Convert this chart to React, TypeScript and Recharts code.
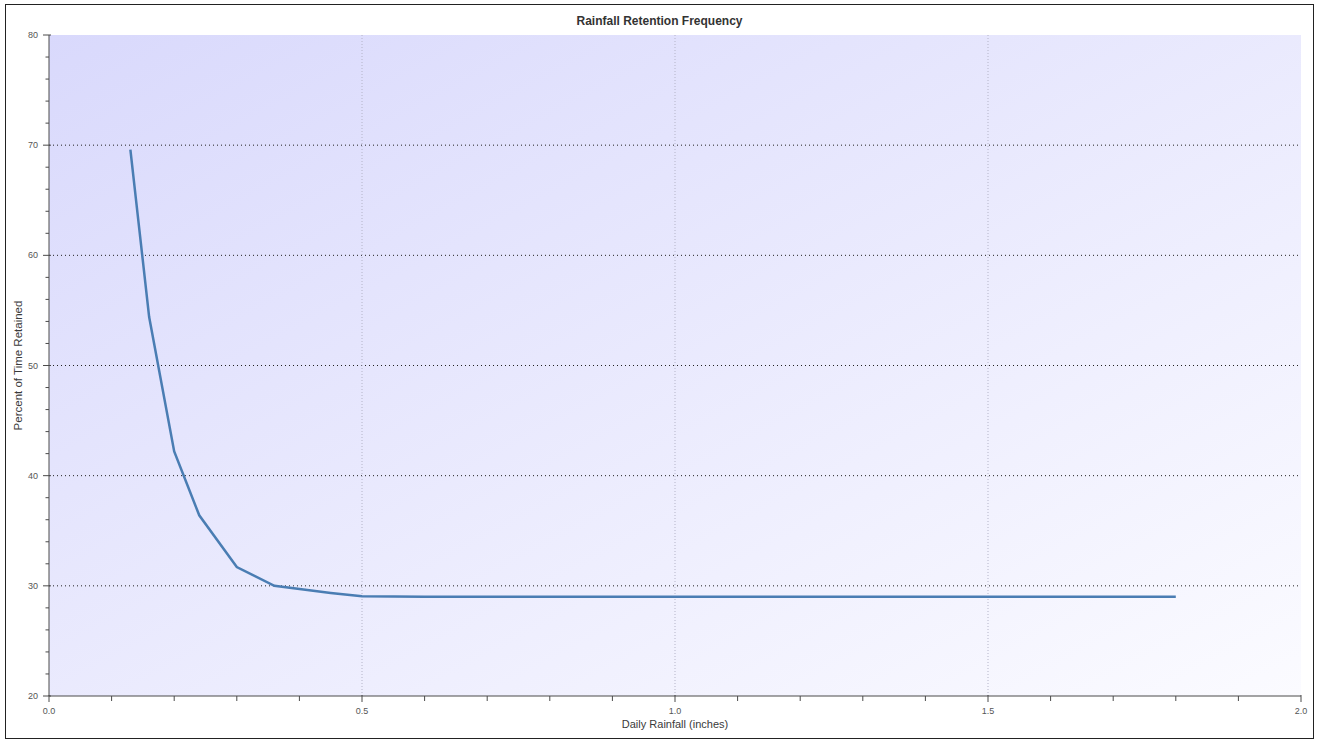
import { LineChart, Line, XAxis, YAxis, ReferenceArea, ReferenceLine } from 'recharts';

const rainfall = [0.13, 0.16, 0.2, 0.24, 0.3, 0.36, 0.45, 0.5, 0.6, 0.8, 1.0, 1.2, 1.4, 1.6, 1.8];
const retained = [69.6, 54.4, 42.2, 36.4, 31.7, 30.0, 29.35, 29.05, 29.0, 29.0, 29.0, 29.0, 29.0, 29.0, 29.0];

const xTicks = [0, 0.1, 0.2, 0.3, 0.4, 0.5, 0.6, 0.7, 0.8, 0.9, 1.0, 1.1, 1.2, 1.3, 1.4, 1.5, 1.6, 1.7, 1.8, 1.9, 2.0];
const yTicks = [20, 22, 24, 26, 28, 30, 32, 34, 36, 38, 40, 42, 44, 46, 48, 50, 52, 54, 56, 58, 60, 62, 64, 66, 68, 70, 72, 74, 76, 78, 80];
const xGrid = [0.5, 1.0, 1.5];
const yGrid = [30, 40, 50, 60, 70];

const data = rainfall.map((x, i) => ({ x, y: retained[i] }));

const font = '"Liberation Sans", Arial, sans-serif';
const axisColor = '#4a4a4a';

const isMajorX = (v: number) => Math.abs(v * 2 - Math.round(v * 2)) < 1e-6;
const isMajorY = (v: number) => v % 10 === 0;

function LeftTick(props: any) {
  const { x, y, payload } = props;
  const major = isMajorY(payload.value);
  return (
    <g>
      <line x1={major ? x - 4 : x - 1.5} x2={major ? x + 4 : x + 2} y1={y} y2={y} stroke={axisColor} />
      {major && (
        <text x={x - 9} y={y + 3} textAnchor="end" fontSize={9} fill="#555" fontFamily={font}>
          {payload.value}
        </text>
      )}
    </g>
  );
}

function RightTick(props: any) {
  const { x, y, payload } = props;
  const major = isMajorY(payload.value);
  return <line x1={x - (major ? 4 : 2)} x2={x} y1={y} y2={y} stroke={axisColor} />;
}

function BottomTick(props: any) {
  const { x, y, payload } = props;
  const major = isMajorX(payload.value);
  return (
    <g>
      <line x1={x} x2={x} y1={major ? y - 3 : y - 2} y2={major ? y + 4 : y + 3} stroke={axisColor} />
      {major && (
        <text x={x} y={y + 16} textAnchor="middle" fontSize={9} fill="#555" fontFamily={font}>
          {payload.value.toFixed(1)}
        </text>
      )}
    </g>
  );
}

function TopTick(props: any) {
  const { x, y, payload } = props;
  const major = isMajorX(payload.value);
  return <line x1={x} x2={x} y1={y} y2={y + (major ? 4 : 2)} stroke={axisColor} />;
}

export default function App() {
  return (
    <div
      style={{
        position: 'absolute',
        left: 5,
        top: 4,
        width: 1307,
        height: 733,
        border: '1px solid #222',
        background: '#fff',
      }}
    >
      <div
        style={{
          position: 'absolute',
          top: 9,
          left: 0,
          width: '100%',
          textAlign: 'center',
          fontFamily: font,
          fontSize: 12,
          fontWeight: 'bold',
          color: '#333',
        }}
      >
        Rainfall Retention Frequency
      </div>
      <LineChart width={1307} height={733} data={data} margin={{ top: 30, right: 12, bottom: 0, left: 0 }}>
        <defs>
          <linearGradient id="plotBg" x1="0" y1="0" x2="1" y2="1">
            <stop offset="0%" stopColor="#d9d9fc" />
            <stop offset="100%" stopColor="#fbfbff" />
          </linearGradient>
        </defs>
        <XAxis
          dataKey="x"
          type="number"
          domain={[0, 2]}
          ticks={xTicks}
          interval={0}
          height={42}
          tickSize={0}
          tickLine={false}
          tick={<BottomTick />}
          stroke={axisColor}
          allowDataOverflow
          label={{
            value: 'Daily Rainfall (inches)',
            position: 'insideBottom',
            offset: 10,
            style: { fontFamily: font, fontSize: 11, fill: '#3a3a3a' },
          }}
        />
        <XAxis
          xAxisId="top"
          orientation="top"
          type="number"
          domain={[0, 2]}
          ticks={xTicks}
          interval={0}
          height={0}
          tickSize={0}
          tickLine={false}
          tick={<TopTick />}
          stroke={axisColor}
          allowDataOverflow
        />
        <YAxis
          type="number"
          domain={[20, 80]}
          ticks={yTicks}
          interval={0}
          width={43}
          tickSize={0}
          tickLine={false}
          tick={<LeftTick />}
          stroke={axisColor}
          allowDataOverflow
          label={{
            value: 'Percent of Time Retained',
            angle: -90,
            position: 'insideLeft',
            offset: 12,
            style: { fontFamily: font, fontSize: 11.5, fill: '#3a3a3a', textAnchor: 'middle' },
          }}
        />
        <YAxis
          yAxisId="right"
          orientation="right"
          type="number"
          domain={[20, 80]}
          ticks={yTicks}
          interval={0}
          width={0}
          tickSize={0}
          tickLine={false}
          tick={<RightTick />}
          stroke="#777"
          allowDataOverflow
        />
        <ReferenceArea x1={0} x2={2} y1={20} y2={80} fill="url(#plotBg)" fillOpacity={1} stroke="none" />
        {yGrid.map((v) => (
          <ReferenceLine key={`y${v}`} y={v} stroke="#222" strokeDasharray="1 3" />
        ))}
        {xGrid.map((v) => (
          <ReferenceLine key={`x${v}`} x={v} stroke="#b4b4c8" strokeDasharray="1 2" />
        ))}
        <Line
          dataKey="y"
          type="linear"
          stroke="#4a7db3"
          strokeWidth={2.5}
          dot={false}
          isAnimationActive={false}
        />
      </LineChart>
    </div>
  );
}
